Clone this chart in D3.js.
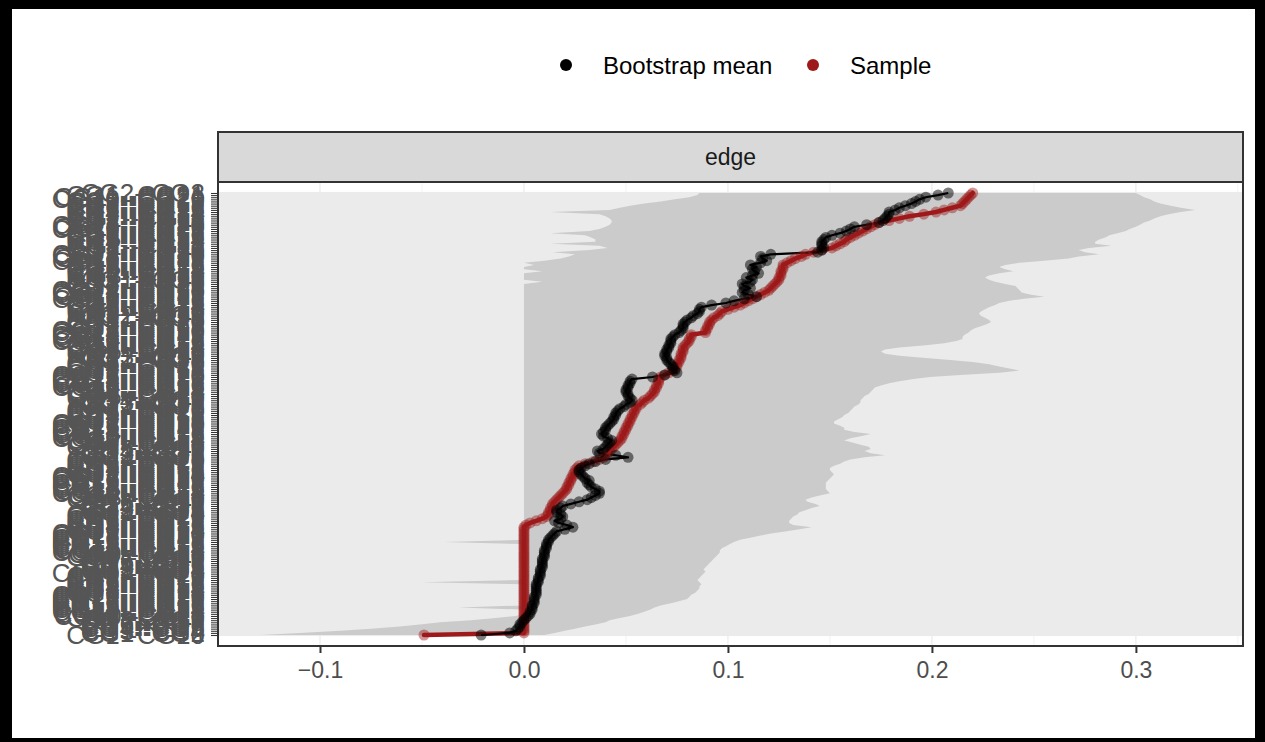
<!DOCTYPE html>
<html>
<head>
<meta charset="utf-8">
<script src="https://cdn.jsdelivr.net/npm/d3@7"></script>
<style>
  body { margin: 0; background: #fff; }
  svg { display: block; font-family: "Liberation Sans", Arial, sans-serif; }
</style>
</head>
<body>
<div id="container"></div>
<script>
(function(){
  "use strict";

  // edges, bottom row first (ordered by sample value)
  var edges = [
    "CG1--CG10",
    "CG1--CG2","CG3--CG4","CG4--CG5","CG5--CG6","CG6--CG7","CG7--CG8","CG8--CG9","CG9--CG10","CG10--CG11","CG11--CG12",
    "CG12--CG13","CG13--CG14","CG14--CG15","CG15--CG16","CG16--CG17","CG17--CG18","CG18--CG19","CG19--CG20","CG20--CG21",
    "CG1--CG12","CG2--CG13","CG3--CG14","CG4--CG15","CG5--CG16","CG6--CG17","CG7--CG18","CG8--CG19","CG9--CG20","CG10--CG21",
    "CG1--CG3","CG2--CG4","CG3--CG5","CG4--CG6","CG5--CG7","CG6--CG8","CG7--CG9","CG8--CG10","CG9--CG11","CG10--CG12",
    "CG11--CG13","CG12--CG14","CG13--CG15","CG14--CG16","CG15--CG17","CG16--CG18","CG17--CG19","CG18--CG20","CG19--CG21",
    "CG1--CG13","CG2--CG14","CG3--CG15","CG4--CG16","CG5--CG17","CG6--CG18","CG7--CG19","CG8--CG20","CG9--CG21",
    "CG1--CG4","CG2--CG5","CG3--CG6","CG4--CG7","CG5--CG8","CG6--CG9","CG7--CG10","CG8--CG11","CG9--CG12","CG10--CG13",
    "CG11--CG14","CG12--CG15","CG13--CG16","CG14--CG17","CG15--CG18","CG16--CG19","CG17--CG20","CG18--CG21",
    "CG1--CG14","CG2--CG15","CG3--CG16","CG4--CG17","CG5--CG18","CG6--CG19","CG7--CG20","CG8--CG21",
    "CG1--CG5","CG2--CG6","CG3--CG7","CG4--CG8","CG5--CG9","CG6--CG10","CG7--CG11","CG8--CG12","CG9--CG13","CG10--CG14",
    "CG11--CG15","CG12--CG16","CG13--CG17","CG14--CG18","CG15--CG19","CG16--CG20","CG17--CG21",
    "CG1--CG15","CG2--CG16","CG3--CG17","CG4--CG18","CG5--CG19","CG6--CG20","CG7--CG21",
    "CG1--CG6","CG2--CG7","CG3--CG8","CG4--CG9","CG5--CG10","CG6--CG11","CG7--CG12","CG8--CG13","CG9--CG14","CG10--CG15",
    "CG11--CG16","CG12--CG17","CG13--CG18","CG14--CG19","CG15--CG20","CG16--CG21",
    "CG1--CG16","CG2--CG17","CG3--CG18","CG4--CG19","CG5--CG20","CG6--CG21",
    "CG1--CG7","CG2--CG8","CG3--CG9","CG4--CG10","CG5--CG11","CG6--CG12","CG7--CG13","CG8--CG14","CG9--CG15","CG10--CG16",
    "CG11--CG17","CG12--CG18","CG13--CG19","CG14--CG20","CG15--CG21",
    "CG1--CG17","CG2--CG18","CG3--CG19","CG4--CG20","CG5--CG21",
    "CG1--CG8","CG2--CG9","CG3--CG10","CG4--CG11","CG5--CG12","CG6--CG13","CG7--CG14","CG8--CG15","CG9--CG16","CG10--CG17",
    "CG11--CG18","CG12--CG19","CG13--CG20","CG14--CG21",
    "CG1--CG18","CG2--CG19","CG3--CG20","CG4--CG21",
    "CG1--CG9","CG2--CG10","CG3--CG11","CG4--CG12","CG5--CG13","CG6--CG14","CG7--CG15","CG8--CG16","CG9--CG17","CG10--CG18",
    "CG11--CG19","CG12--CG20","CG13--CG21",
    "CG1--CG19","CG2--CG20","CG3--CG21",
    "CG2--CG11","CG3--CG12","CG4--CG13","CG5--CG14","CG6--CG15","CG7--CG16","CG8--CG17","CG9--CG18","CG10--CG19","CG11--CG20",
    "CG12--CG21",
    "CG1--CG20","CG2--CG21",
    "CG1--CG11","CG2--CG12","CG3--CG13","CG4--CG14","CG5--CG15","CG6--CG16","CG7--CG17","CG8--CG18","CG9--CG19","CG10--CG20",
    "CG11--CG21",
    "CG1--CG21",
    "CG2--CG3"
  ];

  var sample = [
    -0.049,0,0,0,0,0,0,0,0,0,
    0,0,0,0,0,0,0,0,0,0,
    0,0,0,0,0,0,0,0,0,0,
    0,0,0,0,0,0,0,0,0,0,
    0,0,0,0,0,0,0,0,0,0,
    0,0,0.001,0.003,0.006,0.009,0.011,0.012,0.012,0.013,
    0.013,0.014,0.014,0.015,0.016,0.017,0.018,0.019,0.020,0.021,
    0.021,0.022,0.022,0.023,0.023,0.024,0.024,0.025,0.025,0.026,
    0.027,0.030,0.034,0.037,0.039,0.040,0.041,0.042,0.043,0.044,
    0.045,0.046,0.047,0.048,0.048,0.049,0.049,0.050,0.050,0.051,
    0.051,0.052,0.052,0.053,0.053,0.054,0.054,0.055,0.055,0.057,
    0.058,0.059,0.061,0.062,0.063,0.064,0.064,0.065,0.065,0.066,
    0.066,0.066,0.067,0.069,0.071,0.073,0.074,0.075,0.075,0.076,
    0.076,0.077,0.077,0.077,0.078,0.078,0.078,0.079,0.080,0.081,
    0.081,0.082,0.082,0.089,0.089,0.090,0.090,0.091,0.091,0.092,
    0.093,0.095,0.096,0.097,0.100,0.103,0.106,0.108,0.110,0.112,
    0.114,0.116,0.118,0.120,0.121,0.122,0.123,0.124,0.125,0.125,
    0.126,0.126,0.126,0.127,0.127,0.127,0.129,0.131,0.133,0.136,
    0.138,0.142,0.146,0.151,0.153,0.155,0.157,0.158,0.160,0.162,
    0.164,0.166,0.168,0.170,0.172,0.174,0.179,0.184,0.189,0.196,
    0.202,0.206,0.210,0.214,0.215,0.216,0.217,0.218,0.219,0.220
  ];

  var bootMean = [
    -0.021,-0.007,-0.004,-0.003,-0.002,-0.002,-0.001,0.000,0.001,0.002,
    0.003,0.003,0.004,0.004,0.004,0.005,0.005,0.005,0.005,0.006,
    0.006,0.006,0.006,0.006,0.006,0.007,0.007,0.007,0.008,0.008,
    0.008,0.008,0.009,0.009,0.009,0.009,0.009,0.010,0.010,0.010,
    0.010,0.011,0.011,0.011,0.012,0.012,0.013,0.014,0.015,0.016,
    0.020,0.024,0.021,0.017,0.015,0.018,0.019,0.018,0.016,0.016,
    0.018,0.019,0.023,0.027,0.031,0.033,0.035,0.037,0.037,0.035,
    0.033,0.032,0.031,0.032,0.030,0.029,0.028,0.027,0.027,0.028,
    0.030,0.032,0.035,0.040,0.051,0.045,0.037,0.036,0.039,0.040,
    0.041,0.042,0.043,0.041,0.039,0.038,0.039,0.040,0.040,0.041,
    0.042,0.043,0.044,0.044,0.045,0.045,0.046,0.047,0.049,0.050,
    0.052,0.053,0.052,0.051,0.051,0.050,0.050,0.051,0.051,0.052,
    0.052,0.053,0.063,0.069,0.075,0.074,0.073,0.073,0.072,0.071,
    0.070,0.070,0.069,0.069,0.070,0.070,0.071,0.071,0.072,0.072,
    0.072,0.073,0.074,0.076,0.077,0.078,0.078,0.078,0.079,0.080,
    0.082,0.083,0.085,0.086,0.086,0.087,0.092,0.099,0.103,0.108,
    0.114,0.110,0.107,0.108,0.111,0.108,0.107,0.111,0.112,0.109,
    0.112,0.115,0.113,0.112,0.114,0.111,0.116,0.119,0.117,0.116,
    0.121,0.144,0.146,0.147,0.146,0.146,0.146,0.147,0.148,0.151,
    0.155,0.158,0.160,0.162,0.168,0.174,0.176,0.177,0.178,0.179,
    0.179,0.182,0.184,0.187,0.190,0.192,0.194,0.197,0.203,0.208
  ];

  var ciLower = [
    -0.129,-0.110,-0.090,-0.075,-0.061,-0.051,-0.041,-0.026,-0.014,-0.004,
    0,0,0,-0.032,0,0,0,0,0,0,
    0,0,0,0,0,-0.050,0,0,0,0,
    0,0,0,0,0,0,0,0,0,0,
    0,0,0,0,-0.039,0,0,0,0,0,
    0,0,0,0,0,0,0,0,0,0,
    0,0,0,0,0,0,0,0,0,0,
    0,0,0,0,0,0,0,0,0,0,
    0,0,0,0,0,0,0,0,0,0,
    0,0,0,0,0,0,0,0,0,0,
    0,0,0,0,0,0,0,0,0,0,
    0,0,0,0,0,0,0,0,0,0,
    0,0,0,0,0,0,0,0,0,0,
    0,0,0,0,0,0,0,0,0,0,
    0,0,0,0,0,0,0,0,0,0,
    0,0,0,0,0,0,0,0,0,0,
    0,0,0,0,0,0,0,0.009,0,0,
    0,0,0.009,0,0,0.005,0,0.010,0.018,0.022,
    0.025,0.014,0.032,0.041,0.037,0.013,0.035,0.035,0.033,0.030,
    0.013,0.032,0.037,0.040,0.042,0.043,0.043,0.042,0.040,0.037,
    0.013,0.042,0.047,0.052,0.059,0.067,0.074,0.081,0.085,0.086
  ];

  var ciUpper = [
    0.010,0.015,0.020,0.025,0.030,0.035,0.040,0.042,0.047,0.052,
    0.056,0.059,0.062,0.064,0.067,0.072,0.076,0.080,0.081,0.082,
    0.084,0.085,0.086,0.086,0.087,0.086,0.085,0.086,0.087,0.088,
    0.089,0.088,0.089,0.090,0.091,0.092,0.093,0.094,0.095,0.096,
    0.096,0.097,0.099,0.101,0.103,0.106,0.111,0.116,0.121,0.128,
    0.135,0.141,0.132,0.130,0.130,0.131,0.132,0.134,0.135,0.138,
    0.141,0.145,0.143,0.139,0.138,0.141,0.145,0.150,0.149,0.148,
    0.148,0.148,0.148,0.149,0.150,0.151,0.152,0.151,0.150,0.150,
    0.152,0.155,0.157,0.160,0.167,0.177,0.170,0.167,0.170,0.169,
    0.165,0.161,0.157,0.160,0.165,0.170,0.162,0.157,0.157,0.155,
    0.152,0.152,0.154,0.156,0.157,0.159,0.160,0.161,0.162,0.164,
    0.165,0.165,0.166,0.167,0.169,0.170,0.171,0.172,0.175,0.179,
    0.184,0.191,0.199,0.214,0.233,0.243,0.238,0.233,0.228,0.221,
    0.209,0.197,0.184,0.177,0.175,0.177,0.184,0.197,0.206,0.212,
    0.215,0.215,0.216,0.218,0.219,0.221,0.224,0.227,0.229,0.228,
    0.226,0.224,0.223,0.224,0.226,0.228,0.231,0.233,0.238,0.245,
    0.255,0.248,0.244,0.243,0.242,0.241,0.236,0.231,0.228,0.226,
    0.228,0.233,0.240,0.236,0.233,0.236,0.243,0.255,0.267,0.272,
    0.282,0.275,0.272,0.277,0.288,0.280,0.280,0.282,0.285,0.287,
    0.291,0.295,0.297,0.300,0.302,0.304,0.307,0.309,0.312,0.316,
    0.322,0.329,0.322,0.317,0.312,0.309,0.307,0.304,0.302,0.300
  ];

  var xTicks = [-0.1, 0, 0.1, 0.2, 0.3];
  var xMinor = [-0.05, 0.05, 0.15, 0.25, 0.35];
  var seriesNames = ["Bootstrap mean", "Sample"];
  var seriesColors = ["#000000", "#9e1a1a"];

  var rows = edges.map(function(e, i) {
    return { edge: e, sample: sample[i], mean: bootMean[i], lo: ciLower[i], hi: ciUpper[i] };
  });

  var width = 1265, height = 742;
  var panel = { left: 218, right: 1243, top: 182, bottom: 646 };
  var fontStack = "'Liberation Sans', Arial, sans-serif";

  var svg = d3.select("#container").append("svg")
      .attr("width", width)
      .attr("height", height);

  // screenshot frame
  svg.append("rect").attr("width", width).attr("height", height).attr("fill", "#000");
  svg.append("rect").attr("x", 12).attr("y", 9).attr("width", 1243).attr("height", 729).attr("fill", "#fff");

  var xScale = d3.scaleLinear().domain([-0.15, 0.3525]).range([panel.left, panel.right]);
  var yScale = d3.scalePoint().domain(edges).range([panel.bottom, panel.top]).padding(5.2);
  var step = yScale.step();

  svg.append("defs").append("clipPath").attr("id", "clip")
    .append("rect")
      .attr("x", panel.left).attr("y", panel.top)
      .attr("width", panel.right - panel.left).attr("height", panel.bottom - panel.top);

  var plot = svg.append("g").attr("clip-path", "url(#clip)");
  plot.append("rect")
      .attr("x", panel.left).attr("y", panel.top)
      .attr("width", panel.right - panel.left).attr("height", panel.bottom - panel.top)
      .attr("fill", "#fff");

  plot.selectAll(".vminor").data(xMinor).enter().append("line")
      .attr("x1", xScale).attr("x2", xScale)
      .attr("y1", panel.top).attr("y2", panel.bottom)
      .attr("stroke", "#ebebeb").attr("stroke-width", 0.6);
  plot.selectAll(".vmajor").data(xTicks).enter().append("line")
      .attr("x1", xScale).attr("x2", xScale)
      .attr("y1", panel.top).attr("y2", panel.bottom)
      .attr("stroke", "#ebebeb").attr("stroke-width", 1.2);

  // one horizontal gridline per edge; so dense they merge into a band
  var yTop = yScale(edges[edges.length - 1]), yBottom = yScale(edges[0]);
  plot.append("rect")
      .attr("x", panel.left).attr("width", panel.right - panel.left)
      .attr("y", yTop - step / 2).attr("height", yBottom - yTop + step)
      .attr("fill", "#ebebeb");
  plot.selectAll(".hgrid").data(edges).enter().append("line")
      .attr("x1", panel.left).attr("x2", panel.right)
      .attr("y1", yScale).attr("y2", yScale)
      .attr("stroke", "#ebebeb").attr("stroke-width", step);

  var area = d3.area()
      .y(function(d) { return yScale(d.edge); })
      .x0(function(d) { return xScale(d.lo); })
      .x1(function(d) { return xScale(d.hi); });
  plot.append("path").datum(rows).attr("d", area).attr("fill", "#cbcbcb");

  var sampleLine = d3.line()
      .x(function(d) { return xScale(d.sample); })
      .y(function(d) { return yScale(d.edge); });
  var meanLine = d3.line()
      .x(function(d) { return xScale(d.mean); })
      .y(function(d) { return yScale(d.edge); });

  plot.append("path").datum(rows).attr("d", sampleLine)
      .attr("fill", "none").attr("stroke", seriesColors[1]).attr("stroke-width", 4.5)
      .attr("stroke-linejoin", "round").attr("stroke-linecap", "round");
  plot.append("path").datum(rows).attr("d", meanLine)
      .attr("fill", "none").attr("stroke", seriesColors[0]).attr("stroke-width", 2.2)
      .attr("stroke-linejoin", "round");

  plot.selectAll(".pt-sample").data(rows).enter().append("circle")
      .attr("cx", function(d) { return xScale(d.sample); })
      .attr("cy", function(d) { return yScale(d.edge); })
      .attr("r", 5.5)
      .attr("fill", seriesColors[1]).attr("fill-opacity", 0.45);
  plot.selectAll(".pt-mean").data(rows).enter().append("circle")
      .attr("cx", function(d) { return xScale(d.mean); })
      .attr("cy", function(d) { return yScale(d.edge); })
      .attr("r", 5.5)
      .attr("fill", seriesColors[0]).attr("fill-opacity", 0.5);

  // axes
  var yAxis = d3.axisLeft(yScale).tickSize(7).tickPadding(6);
  var yAxisGroup = svg.append("g")
      .attr("transform", "translate(" + panel.left + ",0)")
      .call(yAxis);
  yAxisGroup.select(".domain").remove();
  yAxisGroup.selectAll(".tick line").attr("stroke", "#333").attr("stroke-width", 1.07);
  yAxisGroup.selectAll(".tick text")
      .attr("fill", "#555")
      .style("font-size", "26px")
      .style("font-family", fontStack);

  var xAxis = d3.axisBottom(xScale).tickValues(xTicks).tickSize(7).tickPadding(9)
      .tickFormat(d3.format(".1f"));
  var xAxisGroup = svg.append("g")
      .attr("transform", "translate(0," + panel.bottom + ")")
      .call(xAxis);
  xAxisGroup.select(".domain").remove();
  xAxisGroup.selectAll(".tick line").attr("stroke", "#333").attr("stroke-width", 2);
  xAxisGroup.selectAll(".tick text")
      .attr("fill", "#4d4d4d")
      .style("font-size", "23px")
      .style("font-family", fontStack);

  // panel border + strip
  svg.append("rect")
      .attr("x", panel.left).attr("y", panel.top)
      .attr("width", panel.right - panel.left).attr("height", panel.bottom - panel.top)
      .attr("fill", "none").attr("stroke", "#333").attr("stroke-width", 2);
  svg.append("rect")
      .attr("x", panel.left).attr("y", 132)
      .attr("width", panel.right - panel.left).attr("height", panel.top - 132)
      .attr("fill", "#d9d9d9").attr("stroke", "#333").attr("stroke-width", 2);
  svg.append("text")
      .attr("x", (panel.left + panel.right) / 2).attr("y", 157)
      .attr("text-anchor", "middle").attr("dominant-baseline", "central")
      .attr("fill", "#1a1a1a").style("font-size", "23px")
      .text("edge");

  // legend
  var legendX = [566, 813];
  var legend = svg.selectAll(".legend").data(seriesNames).enter().append("g")
      .attr("transform", function(d, i) { return "translate(" + legendX[i] + ",65)"; });
  legend.append("circle").attr("r", 6)
      .attr("fill", function(d, i) { return seriesColors[i]; });
  legend.append("text")
      .attr("x", 37).attr("y", 0)
      .attr("dominant-baseline", "central")
      .attr("fill", "#000").style("font-size", "24px")
      .text(function(d) { return d; });
})();
</script>
</body>
</html>
